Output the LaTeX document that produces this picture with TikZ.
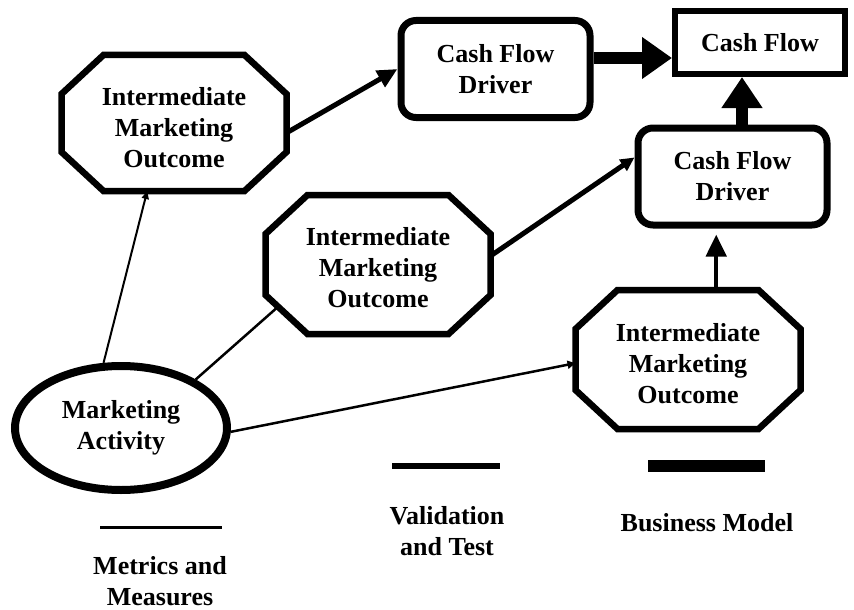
\documentclass[tikz,border=0pt]{standalone}
\usepackage{fontspec}
\setmainfont{Liberation Serif}
\usetikzlibrary{shapes.geometric,arrows.meta,calc}
\newcommand{\octshape}[5]{%
  \coordinate (#1-1) at ({#2-#4+42},{#3-#5});
  \coordinate (#1-2) at ({#2+#4-42},{#3-#5});
  \coordinate (#1-3) at ({#2+#4},{#3-#5+39});
  \coordinate (#1-4) at ({#2+#4},{#3+#5-39});
  \coordinate (#1-5) at ({#2+#4-42},{#3+#5});
  \coordinate (#1-6) at ({#2-#4+42},{#3+#5});
  \coordinate (#1-7) at ({#2-#4},{#3+#5-39});
  \coordinate (#1-8) at ({#2-#4},{#3-#5+39});
  \draw[octline] (#1-1) -- (#1-2) -- (#1-3) -- (#1-4) -- (#1-5) -- (#1-6) -- (#1-7) -- (#1-8) -- cycle;}
\begin{document}
\begin{tikzpicture}[x=1pt,y=-1pt,
  lbl/.style={font=\bfseries\fontsize{26}{31}\selectfont, align=center, inner sep=0pt},
  octline/.style={line width=6.5pt, line join=miter},
  drv/.style={lbl, rectangle, rounded corners=15pt, draw, line width=7pt,
    minimum width=189pt, minimum height=97pt},
  cfbox/.style={lbl, rectangle, draw, line width=6pt, minimum width=170pt, minimum height=63pt},
  actbox/.style={lbl, ellipse, draw, line width=8pt, minimum width=212pt, minimum height=124pt}]
\useasboundingbox (0,0) rectangle (854,610);

% octagons (outline) and their texts
\octshape{o1s}{174}{123}{112.5}{68}
\octshape{o2s}{378}{264.5}{112.5}{69.5}
\octshape{o3s}{688}{359.5}{112.5}{69.5}
\node[lbl] (o1) at (174,128) {Intermediate\\Marketing\\Outcome};
\node[lbl] (o2) at (378,268) {Intermediate\\Marketing\\Outcome};
\node[lbl] (o3) at (688,364) {Intermediate\\Marketing\\Outcome};

\node[drv] (c1) at (495.5,69) {Cash Flow\\Driver};
\node[drv] (c2) at (732.5,176.5) {Cash Flow\\Driver};
\node[cfbox] (cf) at (760,42.5) {Cash Flow};
\node[actbox] (ma) at (121,428) {Marketing\\Activity};

% attachment points on the octagon borders
\coordinate (o1r) at ($(o1s-3)!0.67!(o1s-4)$);
\coordinate (o1b) at ($(o1s-6)!0.31!(o1s-5)$);
\coordinate (o2r) at ($(o2s-3)!0.36!(o2s-4)$);
\coordinate (o2l) at ($(o2s-7)!0.3!(o2s-6)$);
\coordinate (o3l) at ($(o3s-8)!0.56!(o3s-7)$);
\coordinate (o3t) at ($(o3s-1)!0.7!(o3s-2)$);

\draw[line width=12pt, -{Triangle[length=30pt,width=40pt]}] (c1.east |- 0,58) -- (cf.west |- 0,58);
\draw[line width=12pt, -{Triangle[length=31pt,width=39pt]}] (c2.north -| 742,0) -- (cf.south -| 742,0);
\draw[line width=4.5pt, -{Triangle[length=22pt,width=20pt]}, shorten >=6pt] (o3t) -- (o3t |- c2.south);
\draw[line width=5pt, -{Triangle[length=20pt,width=18pt]}] (o1r) -- (c1.west);
\draw[line width=5pt, -{Triangle[length=14pt,width=13pt]}] (o2r) -- (c2.169);
\draw[line width=2pt, -{Triangle[length=8pt,width=7pt]}] (ma.105) -- (o1b);
\draw[line width=2.5pt] (ma.33) -- (o2l);
\draw[line width=2.5pt, -{Triangle[length=8pt,width=8pt]}] (ma.-2) -- (o3l);

% legend
\draw[line width=3pt] (100,527) -- (222,527);
\draw[line width=6pt] (392,466) -- (500,466);
\draw[line width=12pt] (648,466) -- (765,466);
\node[lbl] (lm) at (160,581) {Metrics and\\Measures};
\node[lbl] (lv) at (447,531) {Validation\\and Test};
\node[lbl] (lb) at (707,523) {Business Model};
\end{tikzpicture}
\end{document}
